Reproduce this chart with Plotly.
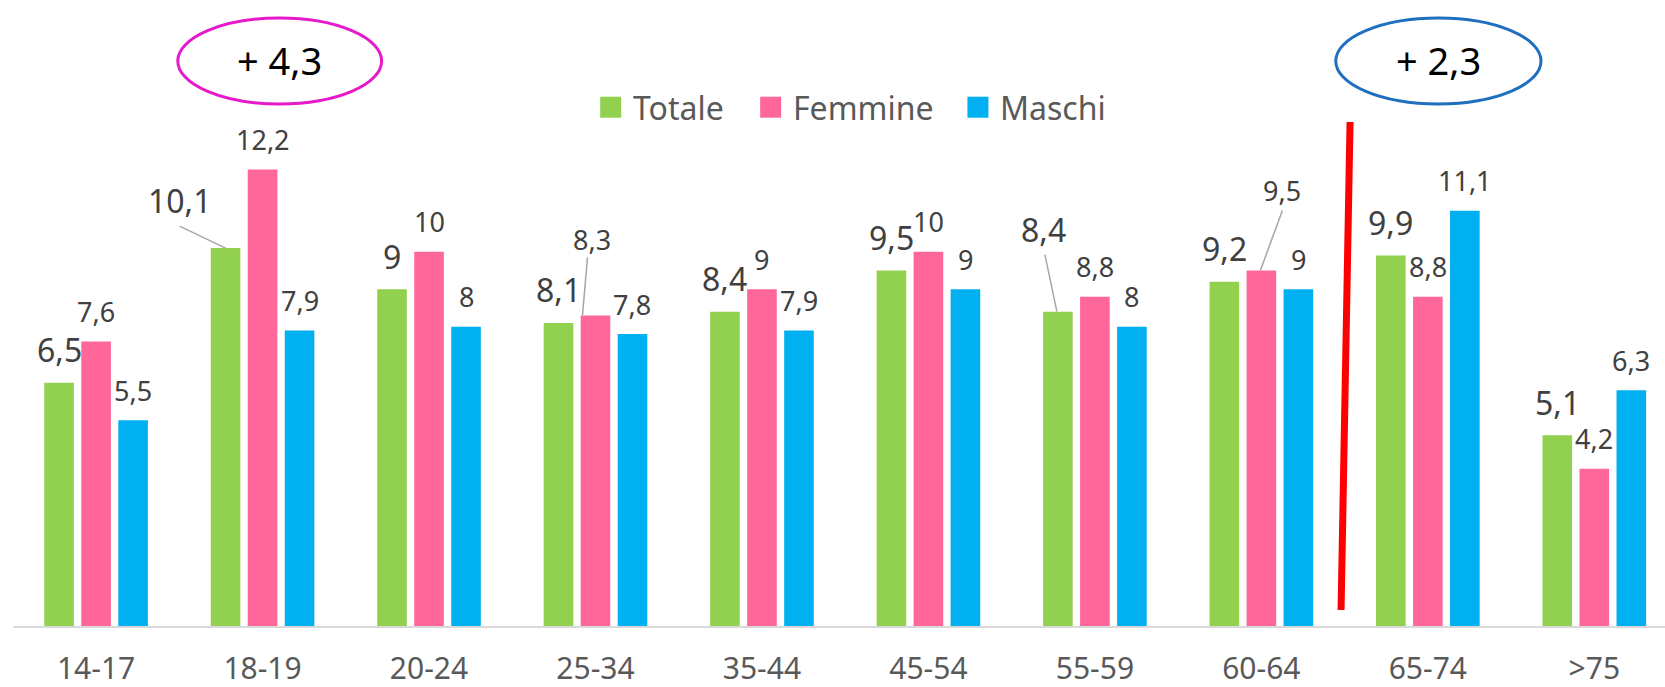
import plotly.graph_objects as go

# ---------------- data ----------------
categories = ["14-17", "18-19", "20-24", "25-34", "35-44", "45-54", "55-59", "60-64", "65-74", ">75"]
totale = [6.5, 10.1, 9, 8.1, 8.4, 9.5, 8.4, 9.2, 9.9, 5.1]
femmine = [7.6, 12.2, 10, 8.3, 9, 10, 8.8, 9.5, 8.8, 4.2]
maschi = [5.5, 7.9, 8, 7.8, 7.9, 9, 8, 9, 11.1, 6.3]
series_names = ["Totale", "Femmine", "Maschi"]
delta_labels = ["+ 4,3", "+ 2,3"]

# ---------------- styles / layout ----------------
colors = ["#92D050", "#FF6699", "#00B0F0"]
FONT = "Noto Sans"
W, H = 1665, 687
L, B = 12.7, 61
plot_w, plot_h = W - L, H - B
px_per_cat = 166.5
px_per_unit = 37.42
first_center = 95.8
r0 = -(first_center - L) / px_per_cat
x_range = [r0, r0 + plot_w / px_per_cat]
y_range = [0, plot_h / px_per_unit]

bar_offsets = [-37, 0, 37]
label_sizes = [32, 27, 27]
label_dy = [33, 30, 30]
# custom label placement: (series, category) -> (dx, dy, leader or None)
custom = {
    (0, 1): (-46, 48, (-46, 22, 0, 0)),
    (1, 3): (-3, 76, (-8, 58, -13, 0)),
    (0, 6): (-14, 82, (-13, 57, -1, 0)),
    (1, 7): (21, 80, (21, 60, -1, 0)),
}


def fx(px):
    return (px - L) / plot_w


def fy(py):
    return (plot_h - py) / plot_h


def fmt(v):
    return ("%g" % v).replace(".", ",")


series = [totale, femmine, maschi]
fig = go.Figure()
for s, (name, vals) in enumerate(zip(series_names, series)):
    fig.add_trace(go.Bar(x=categories, y=vals, name=name, marker_color=colors[s],
                         marker_line_width=0, showlegend=False))

annotations = []
shapes = []
for s, vals in enumerate(series):
    for i, (cat, v) in enumerate(zip(categories, vals)):
        dx, dy, leader = custom.get((s, i), (0, label_dy[s], None))
        annotations.append(dict(x=cat, y=v, xref="x", yref="y", text=fmt(v), showarrow=False,
                                xshift=bar_offsets[s] + dx, yshift=dy, xanchor="center",
                                yanchor="middle",
                                font=dict(family=FONT, size=label_sizes[s], color="#404040")))
        if leader:
            lx0, ly0, lx1, ly1 = leader
            shapes.append(dict(type="line", xref="x", yref="y", xsizemode="pixel",
                               ysizemode="pixel", xanchor=cat, yanchor=v,
                               x0=bar_offsets[s] + lx0, y0=ly0, x1=bar_offsets[s] + lx1, y1=ly1,
                               line=dict(color="#A6A6A6", width=1.5)))

# custom legend
legend_sq_x = [600, 760, 967.3]
for s, name in enumerate(series_names):
    x0 = legend_sq_x[s]
    shapes.append(dict(type="rect", xref="paper", yref="paper", x0=fx(x0), x1=fx(x0 + 21),
                       y0=fy(117.7), y1=fy(96.7), fillcolor=colors[s], line_width=0))
    annotations.append(dict(x=fx(x0 + 31), y=fy(107), xref="paper", yref="paper", text=name,
                            showarrow=False, xanchor="left", yanchor="middle",
                            font=dict(family=FONT, size=32, color="#595959")))

# ellipses with deltas
ell = [((177.5, 381.4), "#E61ACB"), ((1335.7, 1541), "#1F6FBF")]
for (xa, xb), col in ell:
    shapes.append(dict(type="circle", xref="paper", yref="paper", x0=fx(xa), x1=fx(xb),
                       y0=fy(104), y1=fy(18), line=dict(color=col, width=3), fillcolor="rgba(0,0,0,0)"))
for ((xa, xb), col), txt in zip(ell, delta_labels):
    annotations.append(dict(x=fx((xa + xb) / 2), y=fy(60), xref="paper", yref="paper", text=txt,
                            showarrow=False, xanchor="center", yanchor="middle",
                            font=dict(family=FONT, size=38, color="#000000")))

# red separator line
shapes.append(dict(type="line", xref="paper", yref="paper", x0=fx(1350), y0=fy(122),
                   x1=fx(1341), y1=fy(610), line=dict(color="#FF0000", width=7)))

fig.update_layout(
    template="none",
    width=W, height=H,
    margin=dict(l=L, r=0, t=0, b=B, pad=0, autoexpand=False),
    paper_bgcolor="white", plot_bgcolor="white",
    barmode="group", bargap=0.333, bargroupgap=0.2,
    annotations=annotations, shapes=shapes,
    showlegend=False,
    xaxis=dict(range=x_range, showline=True, linecolor="#D9D9D9", linewidth=2, automargin=False,
               showgrid=False, zeroline=False, ticks="", ticklabelstandoff=15,
               tickfont=dict(family=FONT, size=30, color="#595959"), fixedrange=True),
    yaxis=dict(range=y_range, visible=False, showgrid=False, zeroline=False, fixedrange=True,
               automargin=False),
)

fig.write_html("out.html", config={"displayModeBar": False, "staticPlot": True},
               post_script="document.body.style.margin='0px';document.body.style.padding='0px';")
